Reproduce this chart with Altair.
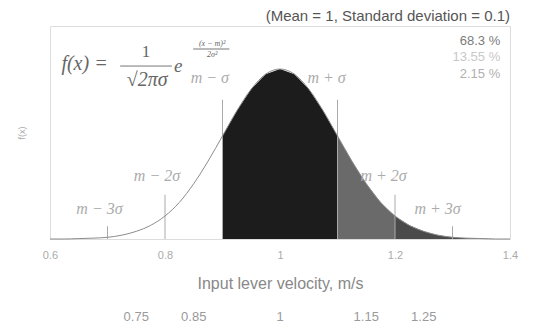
import altair as alt
import pandas as pd

# ---- data ----
xs = [0.6, 0.625, 0.65, 0.675, 0.7, 0.725, 0.75, 0.775, 0.8, 0.825, 0.85, 0.875,
      0.9, 0.925, 0.95, 0.975, 1.0, 1.025, 1.05, 1.075, 1.1, 1.125, 1.15, 1.175,
      1.2, 1.225, 1.25, 1.275, 1.3, 1.325, 1.35, 1.375, 1.4]
fx = [0.00, 0.00, 0.01, 0.02, 0.04, 0.09, 0.18, 0.32, 0.54, 0.86, 1.30, 1.83,
      2.42, 3.01, 3.52, 3.87, 3.99, 3.87, 3.52, 3.01, 2.42, 1.83, 1.30, 0.86,
      0.54, 0.32, 0.18, 0.09, 0.04, 0.02, 0.01, 0.00, 0.00]

band_from = [0.9, 1.1, 1.2]
band_to = [1.1, 1.2, 1.4]
band_color = ["#1c1c1c", "#6a6a6a", "#4a4a4a"]

marker_x = [0.7, 0.8, 0.9, 1.1, 1.2, 1.3]
marker_top = [0.30, 1.04, 3.27, 3.27, 1.04, 0.30]

sigma_labels = ["m − 3σ", "m − 2σ", "m − σ", "m + σ", "m + 2σ", "m + 3σ"]
sigma_x = [0.686, 0.786, 0.878, 1.081, 1.18, 1.274]
sigma_y = [0.70, 1.48, 3.78, 3.78, 1.48, 0.70]

pct_labels = ["68.3 %", "13.55 %", "2.15 %"]
pct_y = [4.65, 4.27, 3.87]
pct_colors = ["#7c7c7c", "#c8c8c8", "#b0b0b0"]

extra_ticks = [0.75, 0.85, 1.0, 1.15, 1.25]
extra_labels = ["0.75", "0.85", "1", "1.15", "1.25"]

title_text = "(Mean = 1, Standard deviation = 0.1)"

curve = pd.DataFrame({"x": xs, "y": fx})

xscale = alt.Scale(domain=[0.6, 1.4], nice=False, zero=False)
yscale = alt.Scale(domain=[0, 5], nice=False)

X = alt.X("x:Q", scale=xscale,
          axis=alt.Axis(values=[0.6, 0.8, 1.0, 1.2, 1.4], format=".1~f", title="Input lever velocity, m/s",
                        labelColor="#aaaaaa", labelFontSize=11, labelFont="Liberation Sans",
                        ticks=False, domain=False, grid=False, labelFlush=False,
                        labelPadding=10, titleColor="#888888", titleFontSize=16,
                        titleFont="Liberation Sans", titleFontWeight="normal", titlePadding=15))
Y = alt.Y("y:Q", scale=yscale,
          axis=alt.Axis(labels=False, ticks=False, domain=False, grid=False, title="f(x)",
                        titleColor="#aaaaaa", titleFontSize=9, titleFont="Liberation Sans",
                        titleFontWeight="normal", titlePadding=24))

layers = []
for lo, hi, col in zip(band_from, band_to, band_color):
    layers.append(
        alt.Chart(curve).mark_area(color=col, opacity=1)
        .encode(x=X, y=Y)
        .transform_filter(alt.FieldRangePredicate(field="x", range=[lo, hi]))
    )

rules = alt.Chart(pd.DataFrame({"x": marker_x, "y": [0] * len(marker_x), "y2": marker_top})).mark_rule(
    color="#aaaaaa", strokeWidth=1).encode(x=X, y=Y, y2="y2:Q")
layers.append(rules)

line = alt.Chart(curve).mark_line(color="#8c8c8c", strokeWidth=1, interpolate="monotone").encode(x=X, y=Y)
layers.append(line)

sig = alt.Chart(pd.DataFrame({"x": sigma_x, "y": sigma_y, "t": sigma_labels})).mark_text(
    font="Liberation Serif", fontStyle="italic", fontSize=16, color="#ababab").encode(x=X, y=Y, text="t:N")
layers.append(sig)

pct = alt.Chart(pd.DataFrame({"x": [1.383] * 3, "y": pct_y, "t": pct_labels, "c": pct_colors})).mark_text(
    font="Liberation Sans", fontSize=13, align="right").encode(x=X, y=Y, text="t:N",
                                                               color=alt.Color("c:N", scale=None))
layers.append(pct)

extra = alt.Chart(pd.DataFrame({"x": extra_ticks, "y": [-1.83] * 5, "t": extra_labels})).mark_text(
    font="Liberation Sans", fontSize=13, color="#9a9a9a").encode(x=X, y=Y, text="t:N")
layers.append(extra)

ttl = alt.Chart(pd.DataFrame({"x": [1.4], "y": [5.11], "t": [title_text]})).mark_text(
    font="Liberation Sans", fontSize=15, color="#555555", align="right", baseline="alphabetic"
).encode(x=X, y=Y, text="t:N")
layers.append(ttl)

# formula f(x) = 1/sqrt(2 pi sigma) e^{-(x-m)^2 / 2 sigma^2}
form_it_t = ["f(x) =", "√2πσ", "e", "(x − m)²", "2σ²"]
form_it_x = [0.66, 0.769, 0.823, 0.882, 0.882]
form_it_y = [4.11, 3.73, 4.06, 4.58, 4.32]
form_it_s = [20, 20, 19, 8, 8]
form_it = alt.Chart(pd.DataFrame({"x": form_it_x, "y": form_it_y, "t": form_it_t, "s": form_it_s})).mark_text(
    font="Liberation Serif", fontStyle="italic", color="#666666").encode(
    x=X, y=Y, text="t:N", size=alt.Size("s:Q", scale=None))
layers.append(form_it)

form_one = alt.Chart(pd.DataFrame({"x": [0.767], "y": [4.40], "t": ["1"]})).mark_text(
    font="Liberation Serif", fontSize=17, color="#666666").encode(x=X, y=Y, text="t:N")
layers.append(form_one)

# fraction bars
bar_x = [0.722, 0.849]
bar_x2 = [0.812, 0.912]
bar_y = [4.06, 4.46]
bars = alt.Chart(pd.DataFrame({"bx": bar_x, "bx2": bar_x2, "by": bar_y})).mark_rule(
    color="#777777", strokeWidth=1).encode(
    x=alt.X("bx:Q", scale=xscale), x2="bx2:Q", y=alt.Y("by:Q", scale=yscale))
layers.append(bars)

chart = alt.layer(*layers).properties(
    width=460, height=213,
    autosize=alt.AutoSizeParams(type="none"),
    padding={"left": 42, "top": 18, "right": 18, "bottom": 88},
).configure_view(stroke="#aaaaaa", strokeWidth=1).configure(background="white")

chart.save("out.html", embed_options={"renderer": "svg", "actions": False})
